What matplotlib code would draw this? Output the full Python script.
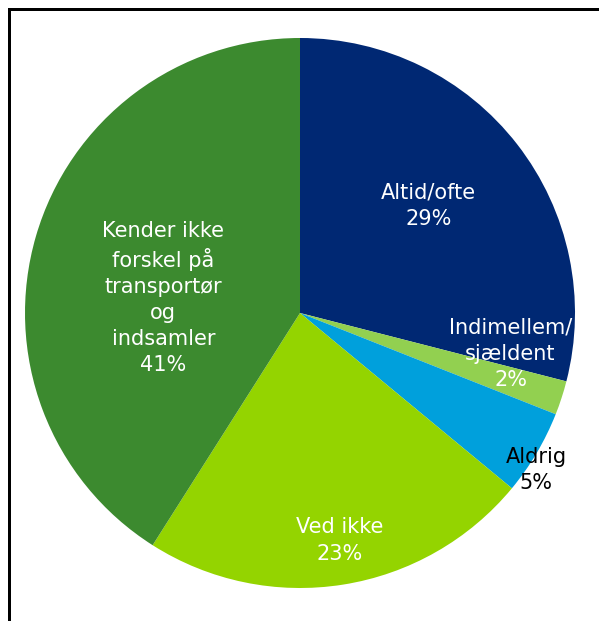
import numpy as np
import matplotlib
matplotlib.use('Agg')
import matplotlib.pyplot as plt
from matplotlib.lines import Line2D

# Data
categories = ['Altid/ofte', 'Indimellem/\nsjældent', 'Aldrig', 'Ved ikke',
              'Kender ikke\nforskel på\ntransportør\nog\nindsamler']
values = [29, 2, 5, 23, 41]
colors = ['#002873', '#92D050', '#00A0DC', '#94D400', '#3C8A2F']
text_colors = ['white', 'white', 'black', 'white', 'white']
# label placement as (angle offset in deg from wedge middle, radius fraction)
label_pos = [(2, 0.61), (7, 0.78), (-3, 1.03), (1, 0.84), (10, 0.50)]

W, H = 599, 621
fig = plt.figure(figsize=(W / 100, H / 100), dpi=100)
fig.patch.set_facecolor('white')

cx, cy, R = 300, H - 313, 275
ax = fig.add_axes([(cx - R) / W, (cy - R) / H, 2 * R / W, 2 * R / H])

wedges, _ = ax.pie(values, colors=colors, startangle=90, counterclock=False,
                   radius=1, wedgeprops=dict(linewidth=0))
ax.set_xlim(-1, 1)
ax.set_ylim(-1, 1)
ax.axis('off')

for w, lab, v, tc, (da, rf) in zip(wedges, categories, values, text_colors, label_pos):
    mid = np.deg2rad((w.theta1 + w.theta2) / 2 + da)
    ax.text(rf * np.cos(mid), rf * np.sin(mid), f'{lab}\n{v}%',
            ha='center', va='center', color=tc, fontsize=15,
            linespacing=1.38, family='DejaVu Sans', clip_on=False)

# frame (only top and left edge visible in the crop)
lw = 3
fig.add_artist(Line2D([9 / W, 1.0], [1 - 9 / H, 1 - 9 / H], color='black',
                      linewidth=lw * 0.72, transform=fig.transFigure))
fig.add_artist(Line2D([9 / W, 9 / W], [0.0, 1 - 9 / H], color='black',
                      linewidth=lw * 0.72, transform=fig.transFigure))

fig.savefig('out.png', dpi=100)
